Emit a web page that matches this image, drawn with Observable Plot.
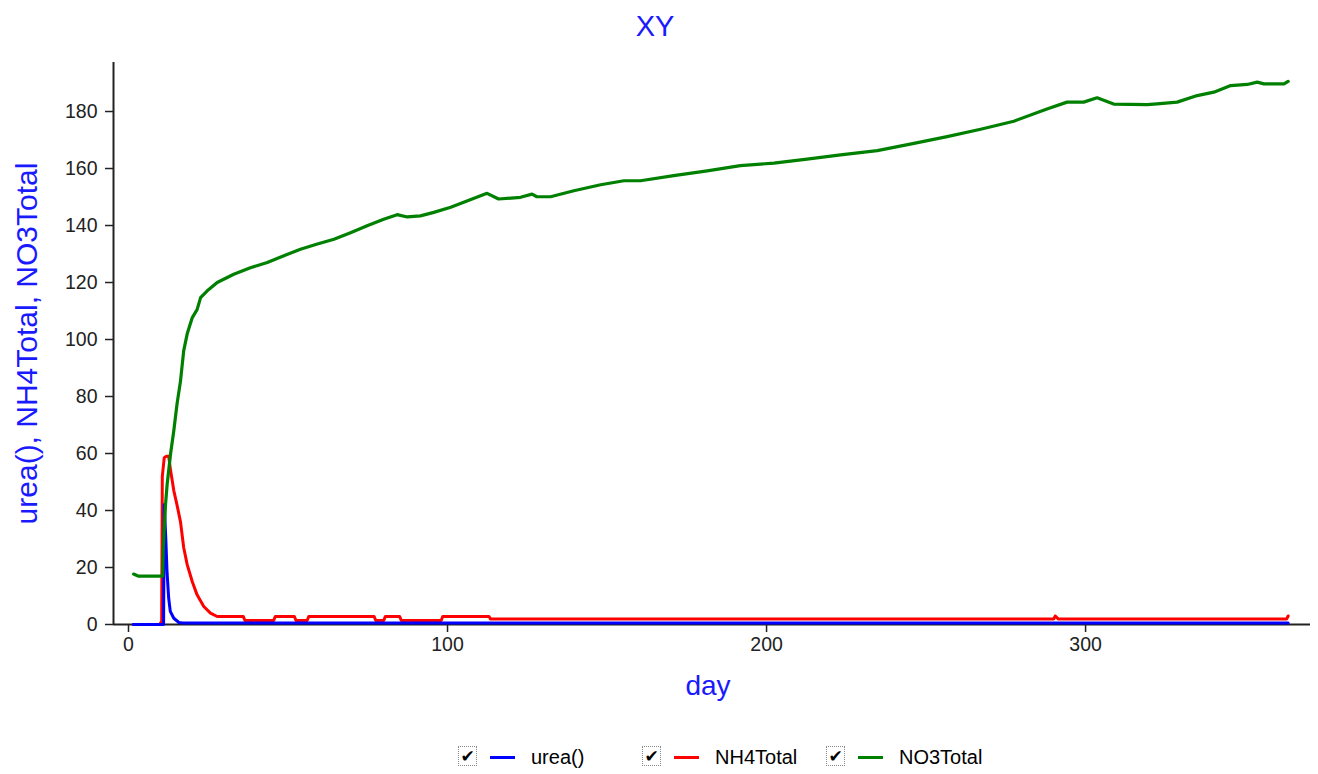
<!DOCTYPE html>
<html><head><meta charset="utf-8">
<script src="https://cdn.jsdelivr.net/npm/d3@7"></script>
<script src="https://cdn.jsdelivr.net/npm/@observablehq/plot@0.6"></script>
<style>
body{margin:0;background:#fff;font-family:"Liberation Sans",Arial,sans-serif;}
#wrap{position:relative;width:1318px;height:774px;overflow:hidden;}
#title{position:absolute;left:0;top:10px;width:1310px;text-align:center;font-size:29px;line-height:32px;color:#1a1aff;}
#chart{position:absolute;left:0;top:50px;}
.lg{position:absolute;top:746px;height:22px;}
.box{position:absolute;top:0px;width:17px;height:18px;border:1px dotted #888;background:#fff;font-size:17px;line-height:18px;text-align:center;color:#000;font-family:"DejaVu Sans",sans-serif;font-weight:bold;}
.ln{position:absolute;top:10px;width:25px;height:3px;}
.tx{position:absolute;top:0px;font-size:20px;line-height:22px;color:#000;white-space:nowrap;}
</style>
</head><body>
<div id="wrap">
<div id="title"></div>
<div id="chart"></div>
<div id="legend"></div>
</div>
<script>
const titleText = "XY";
const xLabel = "day";
const yLabel = "urea(), NH4Total, NO3Total";
const xTicks = [0, 100, 200, 300];
const yTicks = [0, 20, 40, 60, 80, 100, 120, 140, 160, 180];
const seriesNames = ["urea()", "NH4Total", "NO3Total"];
const seriesColors = ["#0000ff", "#ff0000", "#008000"];

const ureaDays = [1.5, 11, 11.2, 11.7, 12.1, 12.6, 13.1, 14.2, 15.8, 17, 363.5];
const ureaVals = [0, 0, 42, 30, 18, 9.2, 4.6, 2.2, 0.7, 0.5, 0.5];

const nh4Days = [1.5, 9.8, 10.2, 10.4, 10.6, 11.2, 11.8, 12.6, 13.2, 14.2, 15.2, 16.3, 17.3, 18.4, 20, 21.5, 23.6, 25.7, 27.8, 36, 36.5, 45.5, 46, 52, 52.5, 56, 56.5, 77, 77.5, 80, 80.5, 85, 85.5, 98, 98.5, 113, 113.5, 290, 290.5, 291.5, 363, 363.5];
const nh4Vals = [0, 0, 0.8, 0.8, 52, 58.5, 59, 59, 54, 47, 42, 36, 27, 21, 15, 10.4, 6.3, 4, 2.8, 2.8, 1.4, 1.4, 2.8, 2.8, 1.4, 1.4, 2.8, 2.8, 1.4, 1.4, 2.8, 2.8, 1.4, 1.4, 2.8, 2.8, 1.9, 1.9, 3, 1.9, 1.9, 3];

const no3Days = [1.6, 3, 10.7, 10.9, 11.6, 12.1, 13.2, 14.2, 15.2, 16.3, 17.3, 18.4, 20, 21.5, 22.6, 24.6, 27.8, 33, 38.2, 43.5, 48.7, 53.9, 59.2, 64.4, 69.6, 74.8, 80, 84.2, 87.4, 91.5, 95.7, 101, 112.4, 116, 122.9, 126.5, 128, 132.3, 139.6, 148, 155.3, 160.5, 170.9, 181.4, 191.8, 202.3, 212.7, 223.2, 234.7, 246.2, 256.6, 267.1, 277.5, 287.9, 294.2, 299.4, 303.6, 308.8, 319.3, 322.4, 328.7, 335, 340.2, 345.5, 350.7, 353.8, 355.9, 362.2, 363.5];
const no3Vals = [17.7, 17, 17, 27, 42, 49, 60, 68, 77.3, 85.4, 96, 102, 107.7, 110.5, 114.7, 117, 120, 122.9, 125.2, 127, 129.4, 131.7, 133.5, 135.2, 137.5, 139.9, 142.2, 143.8, 143, 143.4, 144.6, 146.4, 151.3, 149.3, 149.9, 151, 150.1, 150.1, 152.2, 154.3, 155.7, 155.7, 157.5, 159.2, 161, 161.9, 163.3, 164.8, 166.3, 168.8, 171.2, 173.8, 176.6, 180.9, 183.3, 183.3, 184.8, 182.6, 182.4, 182.7, 183.3, 185.6, 186.8, 189.1, 189.5, 190.3, 189.7, 189.7, 190.6];

const toRows = (days, vals) => days.map((d, i) => ({day: d, v: vals[i]}));
const urea = toRows(ureaDays, ureaVals);
const nh4 = toRows(nh4Days, nh4Vals);
const no3 = toRows(no3Days, no3Vals);

document.getElementById("title").textContent = titleText;

const xDomain = [-4.7, 370.5];
const yDomain = [0, 197.2];

const plot = Plot.plot({
  width: 1318,
  height: 665,
  marginLeft: 113,
  marginRight: 8,
  marginTop: 12,
  marginBottom: 91,
  style: {fontFamily: '"Liberation Sans", Arial, sans-serif', background: "#fff", overflow: "visible"},
  x: {domain: xDomain},
  y: {domain: yDomain},
  marks: [
    Plot.axisX({ticks: xTicks, tickSize: 8, tickPadding: 5, fontSize: 19.5, tickFormat: d3.format("d"), label: null, stroke: "#222", fill: "#222", strokeWidth: 1.5}),
    Plot.axisY({ticks: yTicks, tickSize: 8, tickPadding: 8, fontSize: 19.5, tickFormat: d3.format("d"), label: null, stroke: "#222", fill: "#222", strokeWidth: 1.5}),
    Plot.ruleX([xDomain[0]], {stroke: "#222", strokeWidth: 2}),
    Plot.ruleY([0], {stroke: "#222", strokeWidth: 2}),
    Plot.line(nh4, {x: "day", y: "v", stroke: seriesColors[1], strokeWidth: 3}),
    Plot.line(urea, {x: "day", y: "v", stroke: seriesColors[0], strokeWidth: 3}),
    Plot.line(no3, {x: "day", y: "v", stroke: seriesColors[2], strokeWidth: 3.2}),
    Plot.text([yLabel], {frameAnchor: "left", rotate: -90, dx: -86, fontSize: 30, fill: "#1a1aff", text: d => d, textAnchor: "middle"}),
    Plot.text([xLabel], {frameAnchor: "bottom", dy: 70, dx: -4, fontSize: 28, fill: "#1a1aff", text: d => d, textAnchor: "middle"})
  ]
});
document.getElementById("chart").appendChild(plot);

const legendPos = [458, 642, 826];
const legend = document.getElementById("legend");
seriesNames.forEach((name, i) => {
  const x = legendPos[i];
  const g = document.createElement("div");
  g.className = "lg";
  g.style.left = x + "px";
  g.innerHTML = `<span class="box">✔</span><span class="ln" style="left:32px;background:${seriesColors[i]}"></span><span class="tx" style="left:73px">${name}</span>`;
  legend.appendChild(g);
});
</script>
</body></html>
